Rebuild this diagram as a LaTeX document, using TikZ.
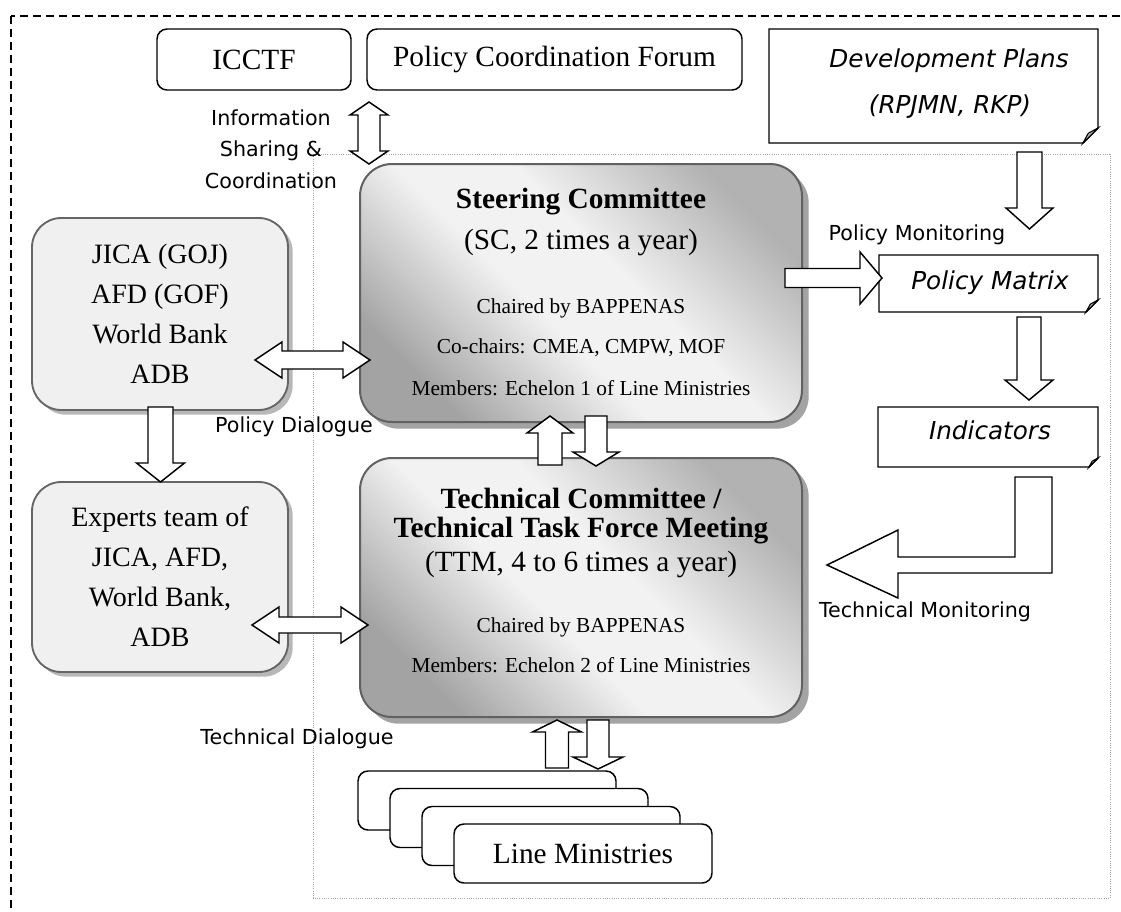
\documentclass[tikz,border=0pt]{standalone}
\usepackage{fontspec}
\setmainfont{Liberation Serif}
\newfontfamily\lblfont{DejaVu Sans}
\usetikzlibrary{shadows}

% diagonal grey sheen for the committee boxes: dark ends, broad light middle
\pgfdeclarehorizontalshading{sheen}{100bp}{color(0bp)=(black!36); color(25bp)=(black!36); color(44bp)=(black!5); color(56bp)=(black!5); color(75bp)=(black!30); color(100bp)=(black!30)}

% vertical block arrow: x, tail y, tip y, shaft half width, head half width, signed head length
\newcommand\arrV[6]{\draw[blk] ({#1-#4},#2) -- ({#1-#4},{#3-(#6)}) -- ({#1-#5},{#3-(#6)}) -- (#1,#3) -- ({#1+#5},{#3-(#6)}) -- ({#1+#4},{#3-(#6)}) -- ({#1+#4},#2) -- cycle;}
% horizontal block arrow: y, tail x, tip x, shaft half width, head half width, signed head length
\newcommand\arrH[6]{\draw[blk] (#2,{#1-#4}) -- ({#3-(#6)},{#1-#4}) -- ({#3-(#6)},{#1-#5}) -- (#3,#1) -- ({#3-(#6)},{#1+#5}) -- ({#3-(#6)},{#1+#4}) -- (#2,{#1+#4}) -- cycle;}
% two-headed horizontal block arrow: y, left tip, right tip, shaft half, head half, head length
\newcommand\arrHH[6]{\draw[blk] (#2,#1) -- ({#2+#6},{#1-#5}) -- ({#2+#6},{#1-#4}) -- ({#3-#6},{#1-#4}) -- ({#3-#6},{#1-#5}) -- (#3,#1) -- ({#3-#6},{#1+#5}) -- ({#3-#6},{#1+#4}) -- ({#2+#6},{#1+#4}) -- ({#2+#6},{#1+#5}) -- cycle;}
% two-headed vertical block arrow: x, top tip, bottom tip, shaft half, head half, head length
\newcommand\arrVV[6]{\draw[blk] (#1,#2) -- ({#1+#5},{#2+#6}) -- ({#1+#4},{#2+#6}) -- ({#1+#4},{#3-#6}) -- ({#1+#5},{#3-#6}) -- (#1,#3) -- ({#1-#5},{#3-#6}) -- ({#1-#4},{#3-#6}) -- ({#1-#4},{#2+#6}) -- ({#1-#5},{#2+#6}) -- cycle;}
% sheet with a folded bottom-right corner: x1, y1, x2, y2, fold size
\newcommand\foldsheet[5]{%
  \draw[sheet] (#1,#2) -- (#3,#2) -- (#3,{#4-#5}) -- ({#3-#5},#4) -- (#1,#4) -- cycle;
  \draw[flap] (#3,{#4-#5}) .. controls ({#3-0.35*#5},{#4-0.8*#5}) .. ({#3-0.65*#5},{#4-0.65*#5}) .. controls ({#3-0.8*#5},{#4-0.35*#5}) .. ({#3-#5},#4) -- cycle;}

\tikzset{
  blk/.style={draw=black, fill=white, line width=1.1pt, line join=miter},
  sheet/.style={draw=black, fill=white, line width=1.1pt},
  flap/.style={draw=black, fill=black!30, line width=0.8pt},
  outerframe/.style={draw=black, line width=1.2pt, dash pattern=on 6pt off 3.75pt},
  innerframe/.style={draw=black!35, line width=0.6pt, dash pattern=on 0.6pt off 1.1pt},
  plainbox/.style={draw=black, fill=white, line width=1.1pt, rounded corners=7.5pt, inner sep=0pt, outer sep=0pt},
  gradbox/.style={draw=black!62, line width=1.5pt, rounded corners=24pt,
    shading=sheen, shading angle=45,
    drop shadow={shadow xshift=5pt, shadow yshift=-5pt, fill=black!36, opacity=1},
    inner sep=0pt, outer sep=0pt},
  greybox/.style={draw=black!60, line width=1.4pt, fill=black!6, rounded corners=22pt,
    drop shadow={shadow xshift=3.5pt, shadow yshift=-3.5pt, fill=black!28, opacity=1},
    inner sep=0pt, outer sep=0pt, align=center, font=\fontsize{21}{30}\selectfont},
  big/.style={font=\fontsize{22}{26}\selectfont, inner sep=0pt},
  bigbold/.style={font=\fontsize{22}{26}\selectfont\bfseries, inner sep=0pt},
  small/.style={font=\fontsize{16}{19}\selectfont, inner sep=0pt},
  lbl/.style={font=\lblfont\fontsize{15.5}{23.6}\selectfont, inner sep=0pt, align=center},
  ital/.style={font=\lblfont\itshape\fontsize{18.5}{22}\selectfont, inner sep=0pt},
}

\begin{document}
\begin{tikzpicture}[x=0.75pt,y=-0.75pt]
\useasboundingbox (0,0) rectangle (1121,911);
\clip (0,0) rectangle (1121,911);

% frames
\draw[outerframe] (11,16) rectangle (1140,930);
\draw[innerframe] (313,154) rectangle (1110,898);

% labels
\node[lbl] (infolbl) at (271,149) {Information\\Sharing \&\\Coordination};
\node[lbl] (pmonlbl) at (917,235) {Policy Monitoring};
\node[lbl] (pdiallbl) at (294,427) {Policy Dialogue};
\node[lbl] (tdiallbl) at (297,739) {Technical Dialogue};
\node[lbl] (tmonlbl) at (925,612) {Technical Monitoring};

% top boxes
\node[plainbox, minimum width=145.5pt, minimum height=45.75pt, big] (icctf) at (254,59.5) {ICCTF};
\node[plainbox, minimum width=281.25pt, minimum height=45.75pt, big] (pcf) at (554.5,59.5) {Policy Coordination Forum};

% planning documents
\foldsheet{769}{29}{1098}{143}{15}
\node[ital] (devplans1) at (949,61) {Development Plans};
\node[ital] (devplans2) at (950,107) {(RPJMN, RKP)};
\foldsheet{879}{255}{1098}{312}{12}
\node[ital] (pmatrix) at (990,283) {Policy Matrix};
\foldsheet{878}{407}{1098}{467}{9}
\node[ital] (indic) at (990,430) {Indicators};

% donor boxes
\node[greybox, minimum width=192pt, minimum height=144pt] (donors) at (160,314) {JICA (GOJ)\\AFD (GOF)\\World Bank\\ADB};
\node[greybox, minimum width=192pt, minimum height=142.5pt] (experts) at (160,577) {Experts team of\\JICA, AFD,\\World Bank,\\ADB};

% committees
\node[gradbox, minimum width=331.5pt, minimum height=193.5pt] (sc) at (581,293) {};
\node[bigbold] (sct) at (581,202) {Steering Committee};
\node[big] (scf) at (581,242) {(SC, 2 times a year)};
\node[small] (sc1) at (581,308) {Chaired by BAPPENAS};
\node[small] (sc2) at (581,348) {Co-chairs: CMEA, CMPW, MOF};
\node[small] (sc3) at (581,388) {Members: Echelon 1 of Line Ministries};

\node[gradbox, minimum width=331.5pt, minimum height=194.25pt] (ttm) at (581,587.5) {};
\node[bigbold] (ttmt1) at (581,498) {Technical Committee /};
\node[bigbold] (ttmt2) at (581,531) {Technical Task Force Meeting};
\node[big] (ttmf) at (581,564) {(TTM, 4 to 6 times a year)};
\node[small] (ttm1) at (581,627) {Chaired by BAPPENAS};
\node[small] (ttm2) at (581,665) {Members: Echelon 2 of Line Ministries};

% stack of line ministries
\node[plainbox, minimum width=193.5pt, minimum height=44.25pt] (lm1) at (487,800.5) {};
\node[plainbox, minimum width=193.5pt, minimum height=44.25pt] (lm2) at (519,818) {};
\node[plainbox, minimum width=193.5pt, minimum height=44.25pt] (lm3) at (551,836) {};
\node[plainbox, minimum width=193.5pt, minimum height=44.25pt, big] (lm4) at (583,853.5) {Line Ministries};

% block arrows
\arrVV{369}{102}{164}{11}{19}{13}
\arrV{1029.5}{152}{229}{12.5}{23.5}{21}
\arrH{278}{785}{882}{9.5}{26}{22}
\arrV{1029}{317}{400}{12}{24}{20}
\draw[blk] (1015,477) -- (1052,477) -- (1052,573) -- (898,573) -- (898,598) -- (827,565) -- (898,530) -- (898,557) -- (1015,557) -- cycle;
\arrHH{360}{255}{370}{9}{18}{27}
\arrV{160.5}{407}{482}{12.5}{24}{19}
\arrHH{625}{252}{368}{8}{18}{27}
\arrV{550}{465}{416}{12}{23}{-17}
\arrV{596}{416}{466}{11}{23}{14}
\arrV{557}{768}{720}{11.5}{24.5}{-12}
\arrV{598}{720}{769}{11}{25}{12}
\end{tikzpicture}
\end{document}
